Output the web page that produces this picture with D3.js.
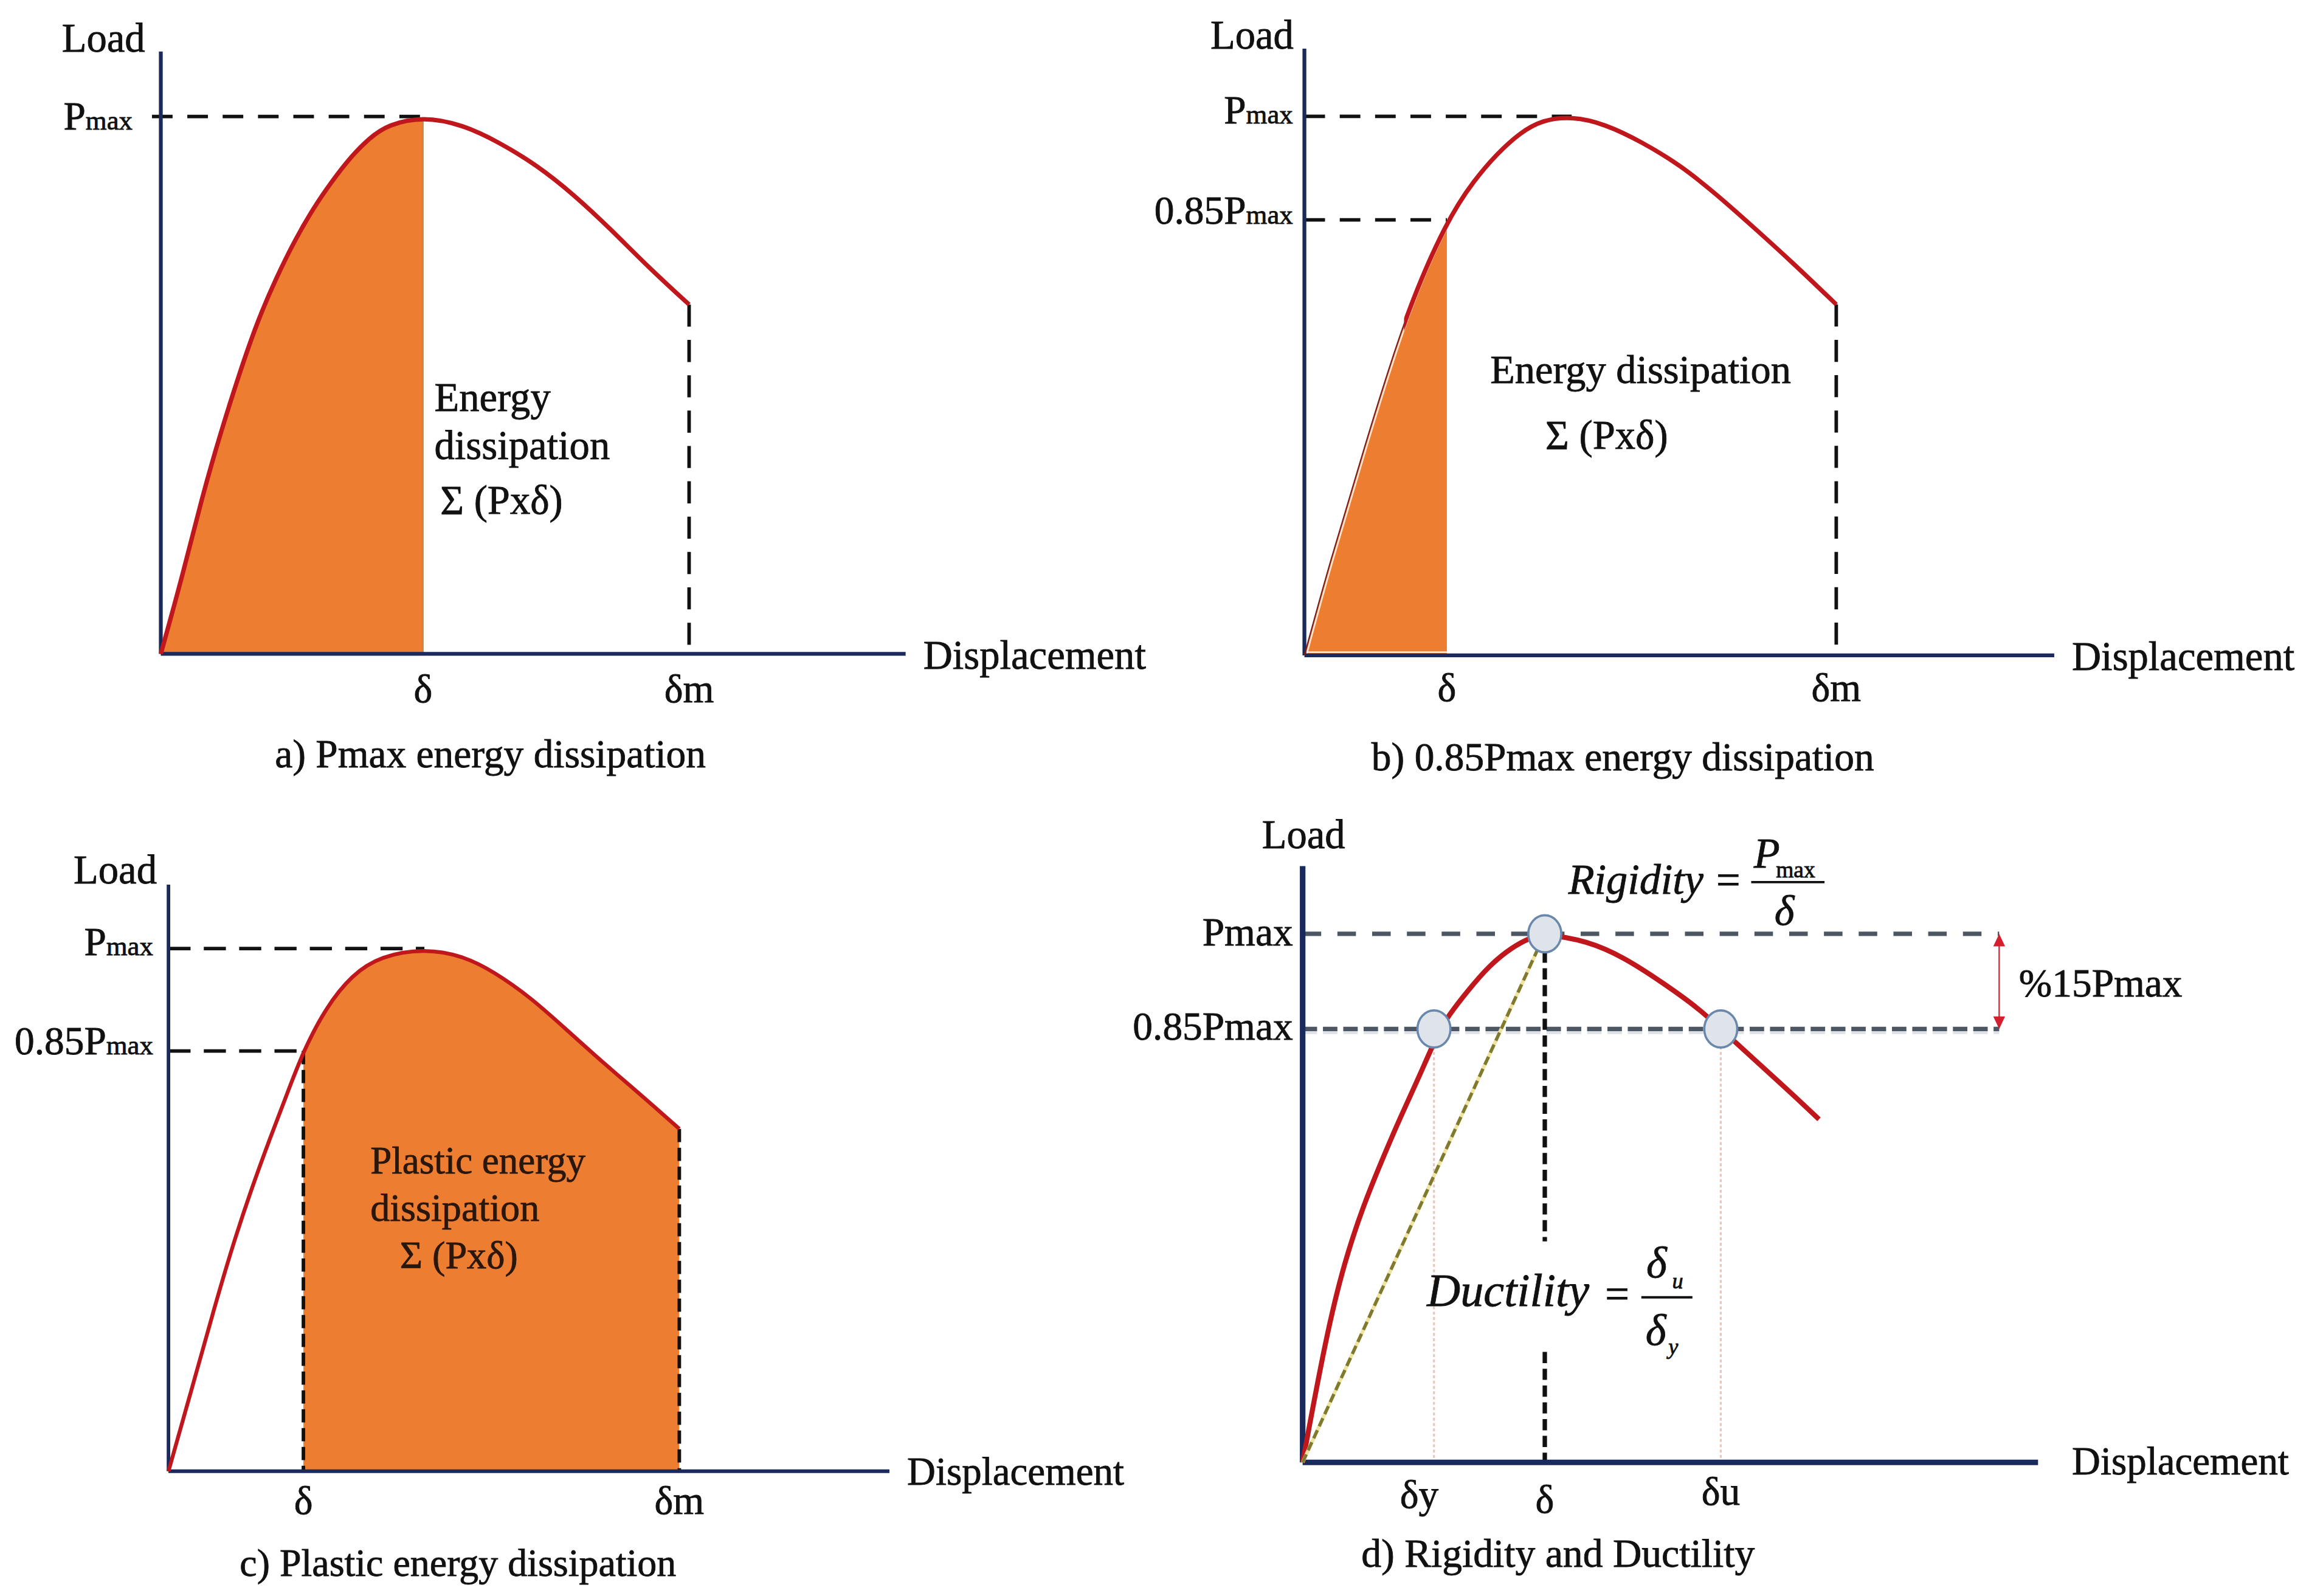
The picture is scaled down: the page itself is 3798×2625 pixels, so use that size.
<!DOCTYPE html>
<html><head><meta charset="utf-8">
<script src="https://cdn.jsdelivr.net/npm/d3@7"></script>
<style>
html,body{margin:0;padding:0;background:#fff;}
svg{display:block;}
text{font-family:"Liberation Serif","Times New Roman",serif;fill:#111;stroke:#111;stroke-width:0.35px;}
</style>
</head><body><svg id="chart"></svg>
<script>
// ================= DATA (displacement in arbitrary units, load as fraction of Pmax) =================
// a) Pmax energy dissipation
const dispA = [0,0.42,0.77,1.12,1.47,1.82,2.17,2.52,2.87,3.22,3.57,3.92,4.27,4.93,5.67,6.36,7.06,7.76,8.46,9.16,9.93];
const loadA = [0,0.15,0.29,0.41,0.52,0.62,0.70,0.77,0.83,0.88,0.925,0.96,0.985,1,0.985,0.952,0.91,0.855,0.79,0.72,0.65];
const marksA = [4.93, 9.93];
const markLabelsA = ["δ", "δm"];
const levelsA = [1];
const levelLabelsA = ["Pmax"];

// b) 0.85Pmax energy dissipation
const dispB = [0,0.47,1.10,1.86,2.66,3.18,3.60,4.02,4.43,4.99,5.61,6.31,7.01,7.70,8.40,9.09,9.93];
const loadB = [0,0.171,0.379,0.627,0.808,0.883,0.931,0.969,0.993,1,0.986,0.952,0.910,0.855,0.793,0.731,0.651];
const marksB = [2.66, 9.93];
const markLabelsB = ["δ", "δm"];
const levelsB = [1, 0.808];
const levelLabelsB = ["Pmax", "0.85Pmax"];

// c) Plastic energy dissipation
const dispC = [0,0.52,0.88,1.24,1.60,1.97,2.33,2.62,3.05,3.56,4.13,4.97,5.72,6.30,7.03,7.75,8.47,9.20,9.92];
const loadC = [0,0.181,0.309,0.430,0.537,0.637,0.729,0.804,0.886,0.950,0.986,1,0.986,0.957,0.907,0.843,0.779,0.718,0.655];
const marksC = [2.62, 9.92];
const markLabelsC = ["δ", "δm"];
const levelsC = [1, 0.804];
const levelLabelsC = ["Pmax", "0.85Pmax"];

// d) Rigidity and Ductility
const dispD = [0,0.45,0.80,1.16,1.51,1.86,2.22,2.57,2.78,3.14,3.56,3.99,4.34,4.61,5.41,6.11,6.82,7.53,7.96,8.60,9.30,9.83];
const loadD = [0,0.241,0.381,0.487,0.572,0.653,0.730,0.811,0.846,0.892,0.941,0.975,0.993,1,0.987,0.956,0.910,0.860,0.820,0.762,0.699,0.649];
const marksD = [2.5, 4.61, 7.96];
const markLabelsD = ["δy", "δ", "δu"];
const levelsD = [1, 0.82];
const levelLabelsD = ["Pmax", "0.85Pmax"];

const captions = ["a) Pmax energy dissipation", "b) 0.85Pmax energy dissipation",
                  "c) Plastic energy dissipation", "d) Rigidity and Ductility"];

// ================= LAYOUT (in 1568-wide design units, scaled to 3798 px) =================
const W = 3798, H = 2625, S = W / 1568;
const NAVY = "#1b2a5c", RED = "#c0171d", ORANGE = "#ED7D31", BLACK = "#111";
const FONT = "'Liberation Serif','Times New Roman',serif";
const CURVE = d3.curveBasis;

const svg = d3.select("#chart").attr("width", W).attr("height", H);
svg.append("rect").attr("width", W).attr("height", H).attr("fill", "#fff");
const root = svg.append("g").attr("transform", `scale(${S})`);
const defs = svg.append("defs");

const panels = {
  a: {x0:109.2, x1:615, yBase:444, yTop:35, yP:79.1},
  b: {x0:885.8, x1:1395, yBase:445, yTop:33, yP:79},
  c: {x0:114.4, x1:604, yBase:999, yTop:600.7, yP:644.1},
  d: {x0:884.6, x1:1384, yBase:993, yTop:588.1, yP:634.1}
};

function scales(p) {
  return {
    x: d3.scaleLinear().domain([0, 14]).range([p.x0, p.x1]),
    y: d3.scaleLinear().domain([0, 1]).range([p.yBase, p.yP])
  };
}
function drawAxes(g, p, x, y, width) {
  const yAx = y.copy().domain([0, y.invert(p.yTop)]).range([p.yBase, p.yTop]);
  g.append("g").attr("transform", `translate(${p.x0},0)`)
    .call(d3.axisLeft(yAx).tickValues([]).tickSizeOuter(0).offset(0))
    .call(s => s.select(".domain").attr("stroke", NAVY).attr("stroke-width", width));
  g.append("g").attr("transform", `translate(0,${p.yBase})`)
    .call(d3.axisBottom(x).tickValues([]).tickSizeOuter(0).offset(0))
    .call(s => s.select(".domain").attr("stroke", NAVY).attr("stroke-width", width));
}
function interp(disp, load, xv) {
  for (let i = 1; i < disp.length; i++) {
    if (xv <= disp[i]) {
      const t = (xv - disp[i-1]) / (disp[i] - disp[i-1]);
      return load[i-1] + t * (load[i] - load[i-1]);
    }
  }
  return load[load.length - 1];
}
function clipRect(id, x0, x1, y0, y1) {
  defs.append("clipPath").attr("id", id).attr("clipPathUnits", "userSpaceOnUse")
    .append("rect").attr("x", x0).attr("y", y0).attr("width", x1 - x0).attr("height", y1 - y0);
  return `url(#${id})`;
}
function text(g, x, y, str, size, anchor, opts = {}) {
  const t = g.append("text").attr("x", x).attr("y", y).attr("font-size", size)
    .attr("font-family", FONT).attr("text-anchor", anchor || "start").text(str);
  if (opts.italic) t.attr("font-style", "italic");
  if (opts.fill) t.style("fill", opts.fill).style("stroke", opts.fill);
  return t;
}
// level label like "0.85Pmax" with reduced "max"
function levelLabel(g, xEnd, yBl, label, size, smallSize) {
  const t = g.append("text").attr("x", xEnd).attr("y", yBl).attr("text-anchor", "end")
    .attr("font-family", FONT).attr("font-size", size);
  const i = label.indexOf("max");
  t.append("tspan").text(label.slice(0, i));
  t.append("tspan").attr("font-size", smallSize).text("max");
}
function dashedH(g, x0, x1, yv, color, w, dash) {
  g.append("line").attr("x1", x0).attr("x2", x1).attr("y1", yv).attr("y2", yv)
    .attr("stroke", color).attr("stroke-width", w).attr("stroke-dasharray", dash);
}
function dashedV(g, xv, y0, y1, color, w, dash) {
  g.append("line").attr("x1", xv).attr("x2", xv).attr("y1", y0).attr("y2", y1)
    .attr("stroke", color).attr("stroke-width", w).attr("stroke-dasharray", dash);
}

// ================= PANEL A =================
(function () {
  const p = panels.a, {x, y} = scales(p), g = root.append("g");
  const pts = d3.zip(dispA, loadA);
  const line = d3.line().x(d => x(d[0])).y(d => y(d[1])).curve(CURVE);
  const area = d3.area().x(d => x(d[0])).y0(y(0)).y1(d => y(d[1])).curve(CURVE);
  g.append("path").attr("d", area(pts)).attr("fill", ORANGE)
    .attr("clip-path", clipRect("clipA", x(0), x(marksA[0]), 0, p.yBase));
  dashedV(g, x(marksA[0]), y(0), y(interp(dispA, loadA, marksA[0])) + 2, "#9a9870", 0.8, null);
  dashedH(g, x(0) - 6, x(marksA[0]), y(levelsA[0]), BLACK, 2.4, "14,10");
  dashedV(g, x(marksA[1]), y(interp(dispA, loadA, marksA[1])), y(0), BLACK, 2.4, "15,9");
  drawAxes(g, p, x, y, 2.6);
  g.append("path").attr("d", line(pts)).attr("fill", "none").attr("stroke", RED).attr("stroke-width", 3);
  text(g, 42, 35, "Load", 27.5);
  levelLabel(g, 90, 88, levelLabelsA[0], 27, 18.5);
  marksA.forEach((m, i) => text(g, x(m), 477, markLabelsA[i], 27, "middle"));
  text(g, 627, 454, "Displacement", 27.5);
  text(g, 295, 279, "Energy", 27.5);
  text(g, 295, 311.5, "dissipation", 27.5);
  text(g, 299, 349, "Σ (Pxδ)", 27.5);
  text(g, 333, 521, captions[0], 27, "middle");
})();

// ================= PANEL B =================
(function () {
  const p = panels.b, {x, y} = scales(p), g = root.append("g");
  const pts = d3.zip(dispB, loadB);
  const line = d3.line().x(d => x(d[0])).y(d => y(d[1])).curve(CURVE);
  const area = d3.area().x(d => x(d[0])).y0(y(0)).y1(d => y(d[1])).curve(CURVE);
  const cl = clipRect("clipB", x(0), x(marksB[0]), 0, p.yBase);
  g.append("path").attr("d", area(pts)).attr("fill", ORANGE).attr("clip-path", cl);
  g.append("g").attr("clip-path", cl).append("path").attr("d", line(pts)).attr("fill", "none")
    .attr("stroke", "#fde6d2").attr("stroke-width", 1.1).attr("transform", "translate(1.3,0)");
  dashedH(g, x(0) + 1, x(marksB[0]), y(0) - 2.2, "#fde6d2", 1.1, null);
  levelsB.forEach((lv, i) => {
    const xe = i === 0 ? x(dispB[loadB.indexOf(1)]) : x(marksB[0]);
    dashedH(g, x(0), xe, y(lv), BLACK, 2.4, "14,10");
  });
  dashedV(g, x(marksB[1]), y(interp(dispB, loadB, marksB[1])), y(0), BLACK, 2.4, "15,9");
  drawAxes(g, p, x, y, 2.6);
  // thin lower part of the curve, thick upper part
  g.append("path").attr("d", line(pts)).attr("fill", "none").attr("stroke", "#7c1d1d").attr("stroke-width", 0.9);
  g.append("g").attr("clip-path", clipRect("clipB2", x(1.86), p.x1, 0, p.yBase))
    .append("path").attr("d", line(pts)).attr("fill", "none").attr("stroke", RED).attr("stroke-width", 3);
  text(g, 822, 33, "Load", 27.5);
  levelLabelsB.forEach((lb, i) => levelLabel(g, 878, i === 0 ? 84 : 152, lb, 27, 18.5));
  marksB.forEach((m, i) => text(g, x(m), 476, markLabelsB[i], 27, "middle"));
  text(g, 1407, 455, "Displacement", 27.5);
  text(g, 1012, 260, "Energy dissipation", 27.4);
  text(g, 1049.5, 304.5, "Σ (Pxδ)", 27.5);
  text(g, 1102, 523, captions[1], 27, "middle");
})();

// ================= PANEL C =================
(function () {
  const p = panels.c, {x, y} = scales(p), g = root.append("g");
  const pts = d3.zip(dispC, loadC);
  const line = d3.line().x(d => x(d[0])).y(d => y(d[1])).curve(CURVE);
  const area = d3.area().x(d => x(d[0])).y0(y(0)).y1(d => y(d[1])).curve(CURVE);
  g.append("path").attr("d", area(pts)).attr("fill", ORANGE)
    .attr("clip-path", clipRect("clipC", x(marksC[0]), x(marksC[1]), 0, p.yBase));
  levelsC.forEach((lv, i) => {
    const xe = i === 0 ? x(dispC[loadC.indexOf(1)]) : x(marksC[0]);
    dashedH(g, x(0), xe, y(lv), BLACK, 2.4, "15,9");
  });
  marksC.forEach(m => dashedV(g, x(m), y(interp(dispC, loadC, m)), y(0), BLACK, 2.4, "9,3.8"));
  drawAxes(g, p, x, y, 2.4);
  g.append("path").attr("d", line(pts)).attr("fill", "none").attr("stroke", RED).attr("stroke-width", 2.6);
  text(g, 50, 600, "Load", 27.5);
  levelLabelsC.forEach((lb, i) => levelLabel(g, 104, i === 0 ? 648.5 : 716, lb, 27, 18.5));
  marksC.forEach((m, i) => text(g, x(m), 1028, markLabelsC[i], 27, "middle"));
  text(g, 616, 1008, "Displacement", 26.8);
  const dark = {fill: "#2a170c"};
  text(g, 251.5, 796.6, "Plastic energy", 26, "start", dark);
  text(g, 251.5, 829, "dissipation", 26.5, "start", dark);
  text(g, 271.5, 861, "Σ (Pxδ)", 26.5, "start", dark);
  text(g, 311, 1070, captions[2], 26.4, "middle");
})();

// ================= PANEL D =================
(function () {
  const p = panels.d, {x, y} = scales(p), g = root.append("g");
  const pts = d3.zip(dispD, loadD);
  const line = d3.line().x(d => x(d[0])).y(d => y(d[1])).curve(CURVE);
  const xRight = 13.26;               // end of reference lines / arrow position
  const [dy, dp, du] = marksD;
  const GRAY = "#4d5763";
  // horizontal gray dashed guides
  dashedH(g, x(0), x(xRight), y(levelsD[0]), GRAY, 3, "12.6,11");
  g.append("line").attr("x1", x(0)).attr("x2", x(xRight)).attr("y1", y(levelsD[1]) + 1.5).attr("y2", y(levelsD[1]) + 1.5)
    .attr("stroke", "#c9ced6").attr("stroke-width", 4).attr("stroke-dasharray", "9.8,4").attr("opacity", 0.6);
  dashedH(g, x(0), x(xRight), y(levelsD[1]), GRAY, 3, "9.8,4");
  // pink dotted verticals at δy, δu
  [dy, du].forEach(m => dashedV(g, x(m), y(levelsD[1]) + 12, y(0), "#efc4b4", 1.3, "2,1.6"));
  // black dashed vertical at δ with a break for the formula
  dashedV(g, x(dp), y(1) + 12, y(0.418), BLACK, 3, "7.6,3.8");
  dashedV(g, x(dp), y(0.209), y(0), BLACK, 3, "7.6,3.8");
  drawAxes(g, p, x, y, 3.8);
  g.append("path").attr("d", line(pts)).attr("fill", "none").attr("stroke", RED).attr("stroke-width", 3.4);
  // secant (rigidity) line
  g.append("line").attr("x1", x(0)).attr("y1", y(0)).attr("x2", x(dp)).attr("y2", y(1))
    .attr("stroke", "#eee3a0").attr("stroke-width", 2.4);
  g.append("line").attr("x1", x(0)).attr("y1", y(0)).attr("x2", x(dp)).attr("y2", y(1))
    .attr("stroke", "#7f7a30").attr("stroke-width", 2.2).attr("stroke-dasharray", "6,3");
  // circles
  [[dy, levelsD[1]], [dp, levelsD[0]], [du, levelsD[1]]].forEach(([m, lv]) => {
    g.append("ellipse").attr("cx", x(m)).attr("cy", y(lv)).attr("rx", 11.2).attr("ry", 12.6)
      .attr("fill", "#dfe4eb").attr("stroke", "#6a88ab").attr("stroke-width", 1.5);
  });
  // red double arrow (15% Pmax)
  const ax = x(xRight), aTop = y(levelsD[0]), aBot = y(levelsD[1]);
  g.append("line").attr("x1", ax).attr("x2", ax).attr("y1", aTop + 6).attr("y2", aBot - 6)
    .attr("stroke", "#d0303a").attr("stroke-width", 1);
  g.append("path").attr("d", `M${ax},${aTop} l-4,8.5 h8 z`).attr("fill", "#d4202e");
  g.append("path").attr("d", `M${ax},${aBot} l-4,-8.5 h8 z`).attr("fill", "#d4202e");
  text(g, 1371, 676.5, "%15Pmax", 27);

  // labels
  text(g, 857, 576, "Load", 27.5);
  levelLabelsD.forEach((lb, i) => text(g, 878, i === 0 ? 642 : 706, lb, 27, "end"));
  const markBase = [1024, 1027, 1022];
  marksD.forEach((m, i) => text(g, x(m) + (i === 0 ? -10 : 0), markBase[i], markLabelsD[i], 27, "middle"));
  text(g, 1407, 1001, "Displacement", 26.8);
  text(g, 1058, 1064, captions[3], 27.1, "middle");

  // Rigidity formula
  text(g, 1065, 606.8, "Rigidity", 29, "start", {italic: true});
  text(g, 1165.5, 607.5, "=", 29);
  g.append("line").attr("x1", 1189.2).attr("x2", 1239).attr("y1", 599).attr("y2", 599).attr("stroke", BLACK).attr("stroke-width", 1.6);
  text(g, 1191, 589, "P", 29, "start", {italic: true});
  text(g, 1206, 595.8, "max", 15.5);
  text(g, 1205, 628, "δ", 29, "start", {italic: true});

  // Ductility formula
  text(g, 969, 887, "Ductility", 31.5, "start", {italic: true});
  text(g, 1090, 888.5, "=", 29);
  g.append("line").attr("x1", 1114.6).attr("x2", 1149.3).attr("y1", 880.9).attr("y2", 880.9).attr("stroke", BLACK).attr("stroke-width", 1.6);
  text(g, 1118, 867.5, "δ", 30, "start", {italic: true});
  text(g, 1135.5, 875, "u", 15, "start", {italic: true});
  text(g, 1117.5, 913.3, "δ", 30, "start", {italic: true});
  text(g, 1133, 919.5, "y", 15, "start", {italic: true});
})();
</script>
</body></html>
